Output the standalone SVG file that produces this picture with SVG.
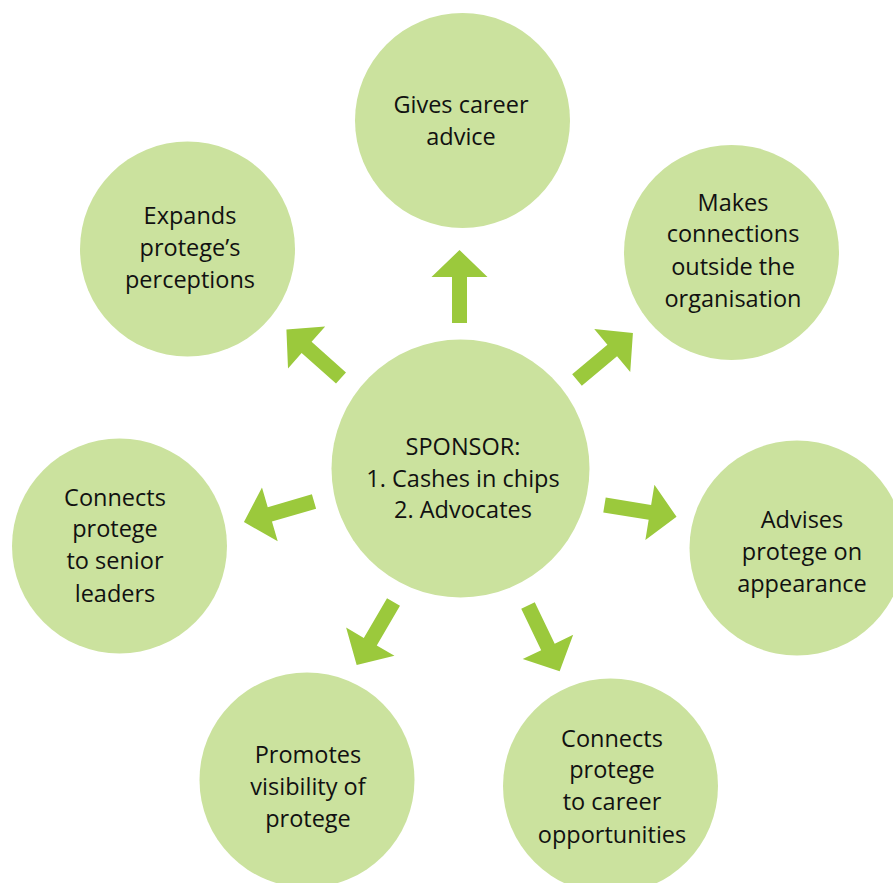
<svg xmlns="http://www.w3.org/2000/svg" width="893" height="883" viewBox="0 0 893 883">
<style>
.n{fill:#cbe29e}
.t{font-family:"Open Sans","Liberation Sans",sans-serif;font-size:23.5px;fill:#111;text-anchor:middle}
.a{fill:#9bc93c}
</style>
<defs>
<path id="arr" d="M0,-7.5 L46,-7.5 L46,-28 L73,0 L46,28 L46,7.5 L0,7.5 Z"/>
</defs>
<rect width="893" height="883" fill="#fff"/>
<g id="connectors" class="a">
<use href="#arr" transform="translate(459.5,323) rotate(-90)"/>
<use href="#arr" transform="translate(577,380) rotate(-40)"/>
<use href="#arr" transform="translate(604.5,505) rotate(9.3)"/>
<use href="#arr" transform="translate(528,605.5) rotate(64.3)"/>
<use href="#arr" transform="translate(393.5,602) rotate(120.3)"/>
<use href="#arr" transform="translate(314,501.5) rotate(163.7)"/>
<use href="#arr" transform="translate(341,378) rotate(221.6)"/>
</g>
<g id="sponsor">
<circle class="n" cx="460.5" cy="468.5" r="129"/>
<text class="t" x="463" y="455">SPONSOR:</text>
<text class="t" x="463" y="487">1. Cashes in chips</text>
<text class="t" x="463" y="518">2. Advocates</text>
</g>
<g id="career-advice">
<circle class="n" cx="462.5" cy="120.5" r="107.5"/>
<text class="t" x="461" y="113">Gives career</text>
<text class="t" x="461" y="145">advice</text>
</g>
<g id="perceptions">
<circle class="n" cx="187.5" cy="249" r="107.5"/>
<text class="t" x="190" y="224">Expands</text>
<text class="t" x="190" y="256">protege’s</text>
<text class="t" x="190" y="288">perceptions</text>
</g>
<g id="outside-connections">
<circle class="n" cx="731.5" cy="252.5" r="107.5"/>
<text class="t" x="733" y="211">Makes</text>
<text class="t" x="733" y="242">connections</text>
<text class="t" x="733" y="275">outside the</text>
<text class="t" x="733" y="307">organisation</text>
</g>
<g id="senior-leaders">
<circle class="n" cx="119.5" cy="546" r="107.5"/>
<text class="t" x="115" y="506">Connects</text>
<text class="t" x="115" y="537">protege</text>
<text class="t" x="115" y="569">to senior</text>
<text class="t" x="115" y="602">leaders</text>
</g>
<g id="appearance">
<circle class="n" cx="797" cy="548" r="107.5"/>
<text class="t" x="802" y="528">Advises</text>
<text class="t" x="802" y="560">protege on</text>
<text class="t" x="802" y="592">appearance</text>
</g>
<g id="visibility">
<circle class="n" cx="307" cy="780" r="107.5"/>
<text class="t" x="308" y="763">Promotes</text>
<text class="t" x="308" y="795">visibility of</text>
<text class="t" x="308" y="827">protege</text>
</g>
<g id="career-opportunities">
<circle class="n" cx="610.5" cy="786" r="107.5"/>
<text class="t" x="612" y="747">Connects</text>
<text class="t" x="612" y="778">protege</text>
<text class="t" x="612" y="810">to career</text>
<text class="t" x="612" y="843">opportunities</text>
</g>
</svg>
